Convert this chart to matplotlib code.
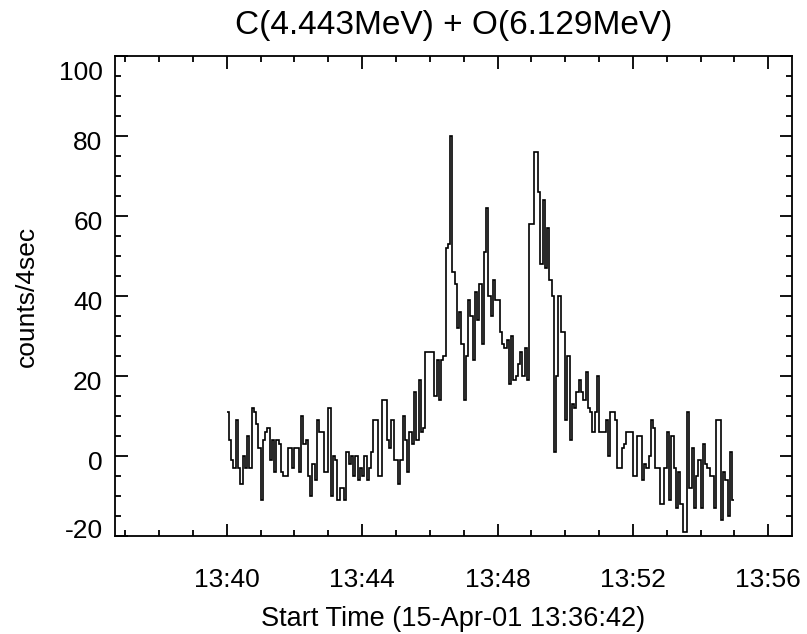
import numpy as np
import matplotlib
matplotlib.use("Agg")
import matplotlib.pyplot as plt
import matplotlib.transforms as mtransforms

# --------------------------------------------------
# Data: counts per 4 s bin, one list per minute (15 bins each)
# time axis in seconds after 13:36:42
# --------------------------------------------------
t_first = 198.0   # 13:40:00
bin_sec = 4.0

m1340 = [11, 4, -1, -3, 9, -3, -7, 0, -3, 5, -3, 12, 11, 8, 2]
m1341 = [-11, 4, 6, 7, -1, 4, -4, 4, 3, -4, -5, -5, 2, 2, -3]
m1342 = [2, 2, -4, 10, 3, 4, -5, -10, -2, -6, 9, 6, 6, -4, -4]
m1343 = [12, -10, 0, -1, -11, -8, -8, -11, 1, -2, 0, -5, 0, -6, -3]
m1344 = [-5, 0, -6, -3, 1, 9, 9, -5, -5, 14, 14, 4, 2, 9, -1]
m1345 = [-1, -7, -1, 10, 4, -4, 6, 3, 16, 4, 19, 6, 7, 26, 26]
m1346 = [26, 26, 15, 24, 14, 24, 25, 52, 53, 80, 46, 43, 32, 36, 28]
m1347 = [14, 25, 39, 35, 24, 41, 34, 43, 28, 51, 62, 40, 35, 44, 39]
m1348 = [39, 31, 28, 27, 29, 18, 30, 19, 20, 23, 26, 20, 27, 19, 58]
m1349 = [58, 76, 76, 66, 48, 64, 47, 57, 44, 40, 1, 20, 40, 31, 31]
m1350 = [9, 25, 4, 13, 12, 16, 19, 16, 14, 21, 12, 11, 6, 11, 20]
m1351 = [6, 6, 6, 9, 0, 11, 11, 9, -3, -3, 2, 3, 6, 6, 6]
m1352 = [-5, -5, 5, 5, -6, -2, -3, 0, 9, 7, -3, -3, -12, -12, -3]
m1353 = [6, -11, 5, -3, -13, -4, -12, -19, -19, 11, -8, 2, -13, -5, -1]
m1354 = [-13, 3, -2, -3, -5, -5, -13, 9, 9, -16, -4, -6, -15, 1, -11]

counts = np.array(m1340 + m1341 + m1342 + m1343 + m1344 + m1345 + m1346
                  + m1347 + m1348 + m1349 + m1350 + m1351 + m1352 + m1353
                  + m1354, dtype=float)
edges = t_first + bin_sec * np.arange(len(counts) + 1)

xtick_sec = [198, 438, 678, 918, 1158]
xtick_lab = ["13:40", "13:44", "13:48", "13:52", "13:56"]
yticks = [-20, 0, 20, 40, 60, 80, 100]

# --------------------------------------------------
# Plot
# --------------------------------------------------
plt.rcParams["font.family"] = ["Liberation Sans", "DejaVu Sans"]
plt.rcParams["axes.unicode_minus"] = False

fig = plt.figure(figsize=(8.07, 6.34), dpi=100)
ax = fig.add_axes([115 / 807, 98 / 634, 677 / 807, 480 / 634])

ax.stairs(counts, edges, baseline=None, color="black", linewidth=1.2)

ax.set_xlim(0, 1200)
ax.set_ylim(-20, 100)

ax.set_xticks(xtick_sec)
ax.set_xticklabels(xtick_lab)
ax.set_xticks(np.arange(18, 1200, 60), minor=True)
ax.set_yticks(yticks)
ax.set_yticks(np.arange(-20, 101, 5), minor=True)

ax.tick_params(which="both", direction="in", top=True, right=True,
               width=1.3, labelsize=19, color="black")
ax.tick_params(which="major", length=9)
ax.tick_params(which="minor", length=4.5)
ax.tick_params(axis="x", pad=23)
ax.tick_params(axis="y", pad=9)
for s in ax.spines.values():
    s.set_linewidth(1.3)

ax.set_title("C(4.443MeV) + O(6.129MeV)", fontsize=24, pad=16)
ax.set_xlabel("Start Time (15-Apr-01 13:36:42)", fontsize=19.5, labelpad=10)
ax.set_ylabel("counts/4sec", fontsize=19, labelpad=14)

# IDL-style: end labels pulled inside the axis range
ylabels = ax.get_yticklabels()
ylabels[0].set_transform(ylabels[0].get_transform() +
                         mtransforms.ScaledTranslation(0, 8 / 100, fig.dpi_scale_trans))
ylabels[-1].set_transform(ylabels[-1].get_transform() +
                          mtransforms.ScaledTranslation(0, -14 / 100, fig.dpi_scale_trans))
for lab in ylabels[1:-1]:
    lab.set_transform(lab.get_transform() +
                      mtransforms.ScaledTranslation(0, -4 / 100, fig.dpi_scale_trans))

fig.savefig("out.png", dpi=100)
